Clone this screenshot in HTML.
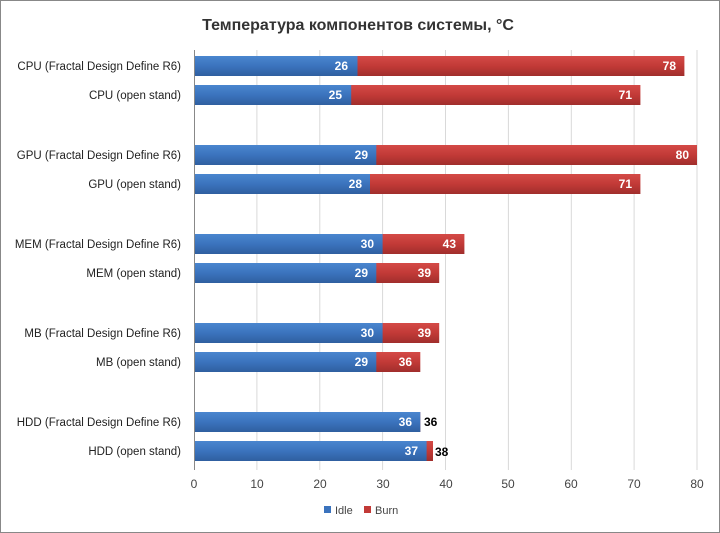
<!DOCTYPE html><html><head><meta charset="utf-8"><style>body{margin:0;background:#fff}svg{display:block;font-family:"Liberation Sans","DejaVu Sans",sans-serif}</style></head><body>
<svg width="720" height="533" xmlns="http://www.w3.org/2000/svg">
<defs>
<linearGradient id="b" x1="0" y1="0" x2="0" y2="1"><stop offset="0" stop-color="#4a86cf"/><stop offset="0.5" stop-color="#3b73bd"/><stop offset="1" stop-color="#2f5f9f"/></linearGradient>
<linearGradient id="r" x1="0" y1="0" x2="0" y2="1"><stop offset="0" stop-color="#d44a47"/><stop offset="0.5" stop-color="#c23a37"/><stop offset="1" stop-color="#a02e2c"/></linearGradient>
</defs>
<rect x="0.5" y="0.5" width="719" height="532" fill="#fff" stroke="#888"/>
<text x="358" y="30" text-anchor="middle" font-size="16" font-weight="bold" fill="#333">Температура компонентов системы, °C</text>
<g stroke="#d9d9d9" stroke-width="1">
<line x1="256.9" y1="50" x2="256.9" y2="470"/><line x1="319.8" y1="50" x2="319.8" y2="470"/><line x1="382.6" y1="50" x2="382.6" y2="470"/><line x1="445.5" y1="50" x2="445.5" y2="470"/><line x1="508.4" y1="50" x2="508.4" y2="470"/><line x1="571.3" y1="50" x2="571.3" y2="470"/><line x1="634.1" y1="50" x2="634.1" y2="470"/><line x1="697" y1="50" x2="697" y2="470"/>
</g>
<line x1="194.5" y1="50" x2="194.5" y2="470" stroke="#888"/>
<g font-size="12" fill="#444" text-anchor="middle">
<text x="194" y="488">0</text><text x="257" y="488">10</text><text x="320" y="488">20</text><text x="383" y="488">30</text><text x="446" y="488">40</text><text x="508" y="488">50</text><text x="571" y="488">60</text><text x="634" y="488">70</text><text x="697" y="488">80</text>
</g>
<g font-size="11.5" fill="#222" text-anchor="end">
<text x="181" y="70">CPU (Fractal Design Define R6)</text>
<text x="181" y="99">CPU (open stand)</text>
<text x="181" y="159">GPU (Fractal Design Define R6)</text>
<text x="181" y="188">GPU (open stand)</text>
<text x="181" y="248">MEM (Fractal Design Define R6)</text>
<text x="181" y="277">MEM (open stand)</text>
<text x="181" y="337">MB (Fractal Design Define R6)</text>
<text x="181" y="366">MB (open stand)</text>
<text x="181" y="426">HDD (Fractal Design Define R6)</text>
<text x="181" y="455">HDD (open stand)</text>
</g>
<g>
<rect x="195" y="56" width="489.4" height="20" fill="url(#r)"/><rect x="195" y="56" width="162.5" height="20" fill="url(#b)"/>
<rect x="195" y="85" width="445.4" height="20" fill="url(#r)"/><rect x="195" y="85" width="156.2" height="20" fill="url(#b)"/>
<rect x="195" y="145" width="502" height="20" fill="url(#r)"/><rect x="195" y="145" width="181.3" height="20" fill="url(#b)"/>
<rect x="195" y="174" width="445.4" height="20" fill="url(#r)"/><rect x="195" y="174" width="175" height="20" fill="url(#b)"/>
<rect x="195" y="234" width="269.4" height="20" fill="url(#r)"/><rect x="195" y="234" width="187.6" height="20" fill="url(#b)"/>
<rect x="195" y="263" width="244.2" height="20" fill="url(#r)"/><rect x="195" y="263" width="181.3" height="20" fill="url(#b)"/>
<rect x="195" y="323" width="244.2" height="20" fill="url(#r)"/><rect x="195" y="323" width="187.6" height="20" fill="url(#b)"/>
<rect x="195" y="352" width="225.3" height="20" fill="url(#r)"/><rect x="195" y="352" width="181.3" height="20" fill="url(#b)"/>
<rect x="195" y="412" width="225.3" height="20" fill="url(#r)"/><rect x="195" y="412" width="225.3" height="20" fill="url(#b)"/>
<rect x="195" y="441" width="238" height="20" fill="url(#r)"/><rect x="195" y="441" width="231.6" height="20" fill="url(#b)"/>
</g>
<g font-size="12" font-weight="bold" fill="#fff" text-anchor="end">
<text x="348" y="70">26</text><text x="676" y="70">78</text>
<text x="342" y="99">25</text><text x="632" y="99">71</text>
<text x="368" y="159">29</text><text x="689" y="159">80</text>
<text x="362" y="188">28</text><text x="632" y="188">71</text>
<text x="374" y="248">30</text><text x="456" y="248">43</text>
<text x="368" y="277">29</text><text x="431" y="277">39</text>
<text x="374" y="337">30</text><text x="431" y="337">39</text>
<text x="368" y="366">29</text><text x="412" y="366">36</text>
<text x="412" y="426">36</text>
<text x="418" y="455">37</text>
</g>
<g font-size="12" font-weight="bold" fill="#000">
<text x="424" y="426">36</text><text x="435" y="456">38</text>
</g>
<rect x="324" y="506" width="7" height="7" fill="#3b73bd"/>
<text x="335" y="514" font-size="11" fill="#444">Idle</text>
<rect x="364" y="506" width="7" height="7" fill="#c23a37"/>
<text x="375" y="514" font-size="11" fill="#444">Burn</text>
</svg>
</body></html>
